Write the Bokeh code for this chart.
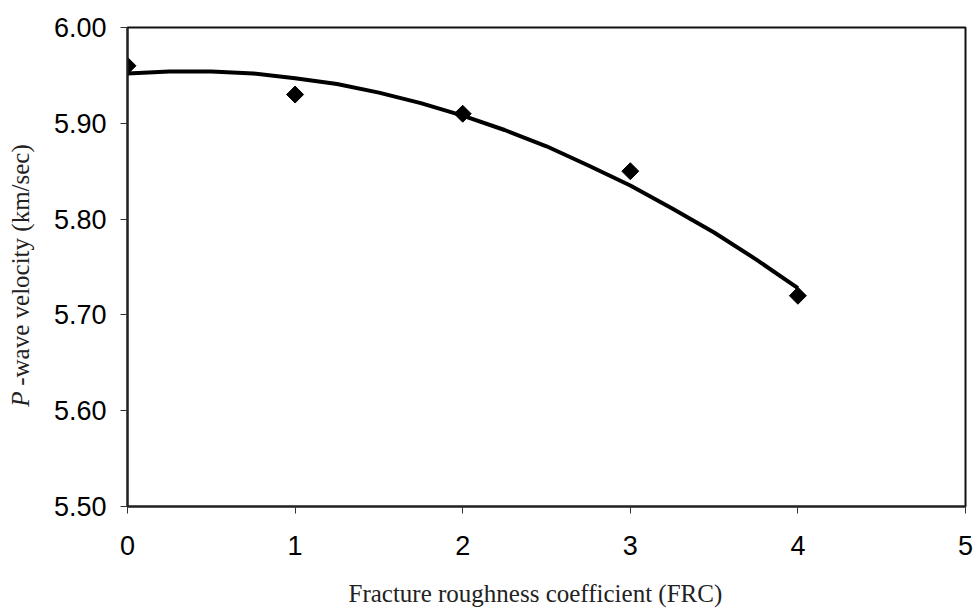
import math
from bokeh.plotting import figure
from bokeh.layouts import row, column
from bokeh.models import FixedTicker, Label, Range1d
from bokeh.embed import file_html
from bokeh.resources import INLINE

# Measured points
frc = [0, 1, 2, 3, 4]
vp = [5.96, 5.93, 5.91, 5.85, 5.72]

# Trend curve
trend_x = [0, 0.25, 0.5, 0.75, 1, 1.25, 1.5, 1.75, 2, 2.25, 2.5, 2.75, 3, 3.25, 3.5, 3.75, 4]
trend_y = [5.952, 5.954, 5.954, 5.952, 5.947, 5.941, 5.932, 5.921, 5.908, 5.893,
           5.876, 5.856, 5.835, 5.811, 5.786, 5.758, 5.728]

x_ticks = [0, 1, 2, 3, 4, 5]
y_ticks = [5.50, 5.60, 5.70, 5.80, 5.90, 6.00]
y_tick_labels = {5.5: "5.50", 5.6: "5.60", 5.7: "5.70", 5.8: "5.80", 5.9: "5.90", 6.0: "6.00"}

x_label = "Fracture roughness coefficient (FRC)"
y_label_italic = "P"
y_label_rest = "-wave velocity (km/sec)"

W, H = 976, 608
LEFT_W = 40
BOTTOM_H = 30
TOP_H = H - BOTTOM_H


def blank(fig):
    fig.axis.visible = False
    fig.grid.visible = False
    fig.outline_line_color = None
    fig.background_fill_color = "white"
    fig.border_fill_color = "white"


# Narrow figure holding the y-axis title (italic P + rest)
side = figure(width=LEFT_W, height=TOP_H, output_backend="svg", toolbar_location=None,
              x_range=Range1d(0, 1), y_range=Range1d(5.5, 6.0))
side.min_border_left = 0
side.min_border_right = 0
side.min_border_top = 27
side.min_border_bottom = 72
blank(side)

lab1 = Label(x=0.5, y=5.604, text=y_label_italic, angle=math.pi / 2,
             text_font="Liberation Serif", text_font_style="italic", text_font_size="25px",
             text_align="left", text_baseline="middle", text_color="#222222")
lab2 = Label(x=0.5, y=5.626, text=y_label_rest, angle=math.pi / 2,
             text_font="Liberation Serif", text_font_size="25px",
             text_align="left", text_baseline="middle", text_color="#222222")
side.add_layout(lab1)
side.add_layout(lab2)

p = figure(width=W - LEFT_W, height=TOP_H, output_backend="svg", toolbar_location=None,
           x_range=Range1d(0, 5), y_range=Range1d(5.5, 6.0))
p.min_border_left = 127 - LEFT_W
p.min_border_right = 11
p.min_border_top = 27
p.min_border_bottom = 72
p.background_fill_color = "white"
p.border_fill_color = "white"
p.outline_line_color = "#111111"
p.outline_line_width = 2
p.grid.visible = False

p.line(trend_x, trend_y, line_color="black", line_width=4)
p.scatter(frc, vp, marker="square", angle=math.pi / 4, size=12,
          fill_color="black", line_color="black")

for ax in (p.xaxis[0], p.yaxis[0]):
    ax.axis_line_color = "#222222"
    ax.axis_line_width = 2
    ax.major_tick_line_color = "#333333"
    ax.major_tick_line_width = 1
    ax.major_tick_out = 7
    ax.major_tick_in = 0
    ax.minor_tick_out = 0
    ax.minor_tick_in = 0
    ax.major_label_text_font = "Liberation Sans"
    ax.major_label_text_font_size = "27px"
    ax.major_label_text_color = "black"

p.xaxis.ticker = FixedTicker(ticks=x_ticks)
p.yaxis.ticker = FixedTicker(ticks=y_ticks)
p.yaxis.major_label_overrides = y_tick_labels
p.xaxis.major_label_standoff = 22
p.yaxis.major_label_standoff = 14

# Strip below holding the x-axis title
bottom = figure(width=W, height=BOTTOM_H, output_backend="svg", toolbar_location=None,
                x_range=Range1d(0, W), y_range=Range1d(0, BOTTOM_H))
bottom.min_border = 0
blank(bottom)
xt = Label(x=348, y=15, text=x_label, text_font="Liberation Serif",
           text_font_size="25px", text_align="left", text_baseline="middle",
           text_color="#222222")
bottom.add_layout(xt)

layout = column(row(side, p, spacing=0), bottom, spacing=0)
open("out.html", "w").write(file_html(layout, INLINE))
